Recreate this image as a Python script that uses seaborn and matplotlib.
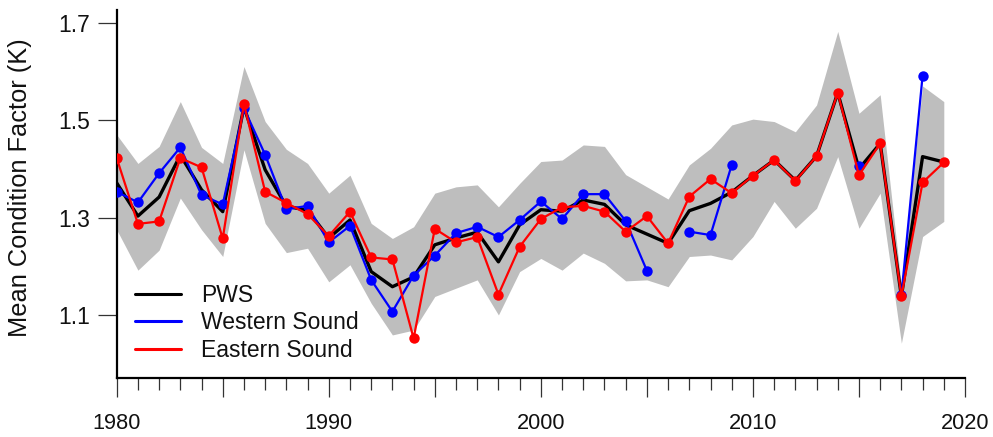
import numpy as np
import pandas as pd
import matplotlib
matplotlib.use("Agg")
import matplotlib.pyplot as plt
from matplotlib.ticker import FixedLocator, MultipleLocator, FuncFormatter
from matplotlib.lines import Line2D
import seaborn as sns

nan = np.nan
years = list(range(1980, 2020))

pws = [1.371, 1.303, 1.342, 1.428, 1.357, 1.312, 1.527, 1.398, 1.323, 1.315,
       1.258, 1.295, 1.189, 1.158, 1.178, 1.244, 1.258, 1.270, 1.209, 1.285,
       1.316, 1.313, 1.336, 1.327, 1.285, 1.266, 1.247, 1.314, 1.329, 1.352,
       1.386, 1.418, 1.376, 1.426, 1.556, 1.400, 1.452, 1.138, 1.425, 1.414]

western = [1.353, 1.331, 1.391, 1.444, 1.346, 1.327, 1.524, 1.429, 1.317, 1.324,
           1.249, 1.283, 1.172, 1.107, 1.181, 1.222, 1.268, 1.281, 1.260, 1.295,
           1.333, 1.297, 1.348, 1.348, 1.293, 1.191, nan, 1.271, 1.264, 1.408,
           nan, nan, nan, nan, nan, 1.405, nan, 1.140, 1.591, nan]

eastern = [1.422, 1.287, 1.292, 1.422, 1.403, 1.257, 1.533, 1.353, 1.330, 1.307,
           1.262, 1.312, 1.218, 1.214, 1.052, 1.277, 1.249, 1.260, 1.142, 1.240,
           1.297, 1.321, 1.324, 1.312, 1.271, 1.303, 1.247, 1.343, 1.379, 1.350,
           1.386, 1.418, 1.375, 1.426, 1.556, 1.387, 1.452, 1.138, 1.372, 1.413]

band_upper = [1.470, 1.411, 1.446, 1.538, 1.444, 1.411, 1.610, 1.497, 1.440, 1.411,
              1.350, 1.387, 1.288, 1.257, 1.281, 1.350, 1.363, 1.367, 1.322, 1.370,
              1.415, 1.418, 1.449, 1.446, 1.388, 1.363, 1.338, 1.408, 1.442, 1.490,
              1.502, 1.497, 1.476, 1.531, 1.682, 1.514, 1.552, 1.160, 1.570, 1.538]

band_lower = [1.275, 1.192, 1.233, 1.340, 1.275, 1.220, 1.439, 1.288, 1.228, 1.237,
              1.168, 1.203, 1.124, 1.059, 1.069, 1.138, 1.155, 1.172, 1.100, 1.189,
              1.216, 1.192, 1.227, 1.206, 1.170, 1.172, 1.158, 1.220, 1.223, 1.213,
              1.261, 1.333, 1.278, 1.319, 1.425, 1.278, 1.350, 1.042, 1.261, 1.292]

series_labels = ["PWS", "Western Sound", "Eastern Sound"]
series_colors = ["#000000", "#0000FF", "#FF0000"]
y_ticks = [1.1, 1.3, 1.5, 1.7]
x_labeled = [1980, 1990, 2000, 2010, 2020]

sns.set_theme(style="white")
plt.rcParams["font.family"] = ["Liberation Sans", "DejaVu Sans"]


def segmented(yrs, vals):
    seg = 0
    rows = []
    prev_nan = True
    for yr, v in zip(yrs, vals):
        if np.isnan(v):
            prev_nan = True
            continue
        if prev_nan:
            seg += 1
        prev_nan = False
        rows.append((yr, v, seg))
    return pd.DataFrame(rows, columns=["year", "value", "seg"])


fig = plt.figure(figsize=(9.93, 4.37), dpi=100)
L, R, T, B = 116.7, 965.0, 10.0, 378.0
ax = fig.add_axes([L / 993, (437 - B) / 437, (R - L) / 993, (B - T) / 437])

ax.fill_between(years, band_lower, band_upper, color="#BEBEBE", lw=0, zorder=1)

df_p = segmented(years, pws)
df_w = segmented(years, western)
df_e = segmented(years, eastern)

sns.lineplot(data=df_p, x="year", y="value", units="seg", estimator=None,
             color=series_colors[0], lw=2.4, ax=ax, zorder=2, legend=False)
sns.lineplot(data=df_w, x="year", y="value", units="seg", estimator=None,
             color=series_colors[1], lw=1.6, marker="o", markersize=7.5,
             markeredgewidth=0, ax=ax, zorder=3, legend=False)
sns.lineplot(data=df_e, x="year", y="value", units="seg", estimator=None,
             color=series_colors[2], lw=1.6, marker="o", markersize=7.5,
             markeredgewidth=0, ax=ax, zorder=4, legend=False)

ax.set_xlim(1980, 2020)
ax.set_ylim(0.9706, 1.726)

for s in ["top", "right"]:
    ax.spines[s].set_visible(False)
for s in ["left", "bottom"]:
    ax.spines[s].set_visible(True)
    ax.spines[s].set_color("black")
    ax.spines[s].set_linewidth(1.6)

ax.xaxis.set_major_locator(MultipleLocator(5))
ax.xaxis.set_minor_locator(MultipleLocator(1))
ax.xaxis.set_major_formatter(FuncFormatter(lambda v, p: f"{int(round(v))}" if int(round(v)) in x_labeled else ""))
ax.yaxis.set_major_locator(FixedLocator(y_ticks))
ax.yaxis.set_major_formatter(FuncFormatter(lambda v, p: f"{v:.1f}"))

ax.tick_params(axis="x", which="major", direction="out", length=13.5, width=0.9,
               color="#333333", labelsize=15.7, pad=11.5, labelcolor="#111111",
               bottom=True)
ax.tick_params(axis="x", which="minor", direction="out", length=8.6, width=0.9,
               color="#333333", bottom=True)
ax.tick_params(axis="y", which="major", direction="out", length=13.5, width=0.9,
               color="#333333", labelsize=16.5, pad=5.5, labelcolor="#111111",
               left=True)

ax.set_xlabel("")
ax.set_ylabel("Mean Condition Factor (K)", fontsize=18.3, color="#111111")
ax.yaxis.set_label_coords((32 - L) / (R - L), (B - 188) / (B - T))
ax.grid(False)

handles = [Line2D([0], [0], color=c, lw=2.2) for c in series_colors]
leg = ax.legend(handles, series_labels, loc="lower left",
                bbox_to_anchor=((135 - L) / (R - L), (B - 362) / (B - T)),
                frameon=False, fontsize=16.5, handlelength=2.0, handletextpad=0.9,
                labelspacing=0.2, borderpad=0, borderaxespad=0)
for t in leg.get_texts():
    t.set_color("#111111")

fig.savefig("out.png", dpi=100)
